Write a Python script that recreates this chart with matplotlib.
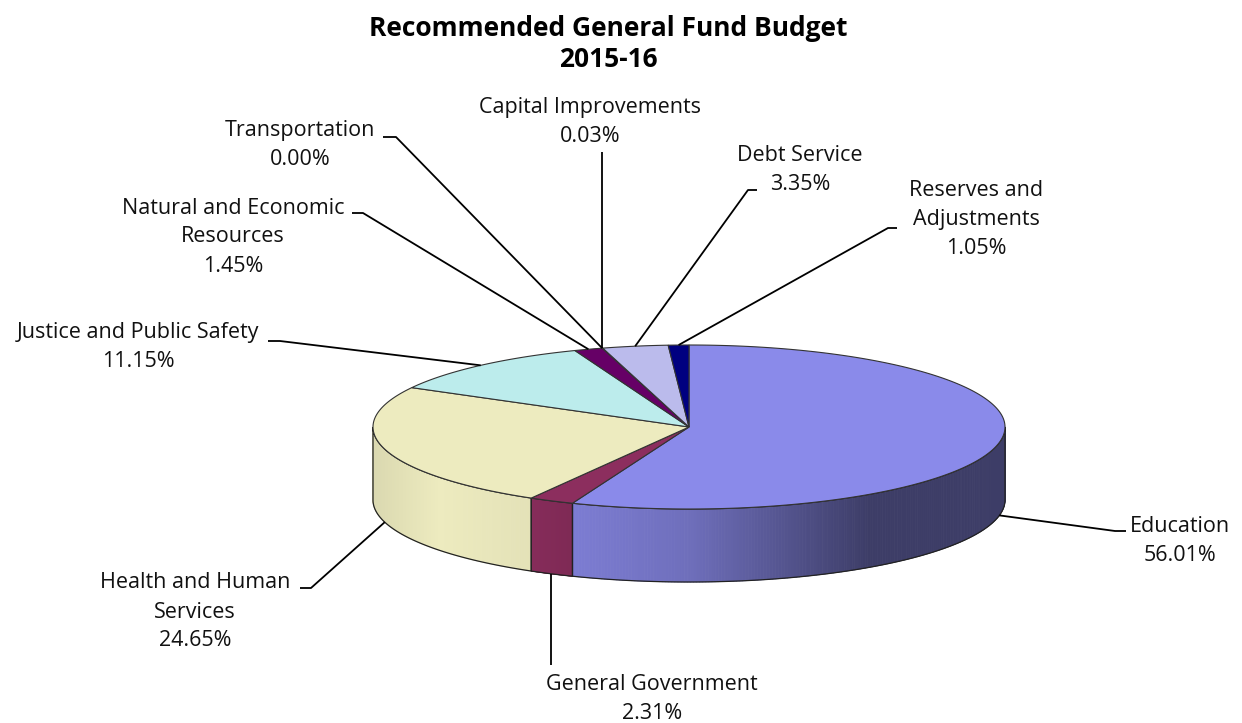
import matplotlib.pyplot as plt
import numpy as np
from matplotlib.patches import Polygon
from matplotlib.collections import PolyCollection

plt.rcParams['font.family'] = ['Open Sans', 'DejaVu Sans']

# Budget shares (percent), in clockwise order starting at 12 o'clock
categories = ['Education', 'General Government', 'Health and Human\nServices',
              'Justice and Public Safety', 'Natural and Economic\nResources',
              'Transportation', 'Capital Improvements', 'Debt Service',
              'Reserves and\nAdjustments']
shares = [56.01, 2.31, 24.65, 11.15, 1.45, 0.00, 0.03, 3.35, 1.05]
colors = ['#8a8aea', '#8c2e5e', '#edebbf', '#bcecec', '#660066',
          '#ccffff', '#ff8080', '#bbbbec', '#000080']

# label block centres and the leader-line bend points (pixel space)
label_pos = [(1180, 541), (652, 699), (195, 612), (138, 347), (233, 237),
             (300, 145), (590, 122), (800, 170), (976, 219)]
leader_pts = [[(1126, 531), (1115, 531)],
              [(None, 665)],
              [(300, 588), (311, 588)],
              [(268, 341), (280, 341)],
              [(352, 213), (363, 213)],
              [(383, 137), (396, 137)],
              [(None, 152)],
              [(757, 190), (748, 190)],
              [(897, 228), (888, 228)]]

# pie geometry
cx, cy, rx, ry, depth = 689, 427, 316, 82, 73


def rim(t):
    t = np.radians(t)
    return cx + rx * np.cos(t), cy - ry * np.sin(t)


def side_shade(x):
    return np.interp(x, [373, 440, 530, 575, 690, 870, 1005],
                     [0.92, 1.0, 0.96, 0.9, 0.8, 0.44, 0.44])


fig = plt.figure(figsize=(12.42, 7.23), dpi=100)
ax = fig.add_axes([0, 0, 1, 1])
ax.set_xlim(0, 1242)
ax.set_ylim(723, 0)
ax.axis('off')

cum = np.concatenate([[0], np.cumsum(shares)])
starts = 90 - cum[:-1] * 3.6
ends = 90 - cum[1:] * 3.6

# side walls of the front half
for s, e, c in zip(starts, ends, colors):
    lo, hi = max(e, -180), min(s, 0)
    if hi <= lo:
        continue
    ts = np.linspace(lo, hi, 200)
    xs, ys = rim(ts)
    quads, fcs = [], []
    base = np.array(plt.matplotlib.colors.to_rgb(c))
    for i in range(len(ts) - 1):
        quads.append([(xs[i], ys[i]), (xs[i + 1], ys[i + 1]),
                      (xs[i + 1], ys[i + 1] + depth), (xs[i], ys[i] + depth)])
        fcs.append(np.clip(base * side_shade((xs[i] + xs[i + 1]) / 2), 0, 1))
    ax.add_collection(PolyCollection(quads, facecolors=fcs, edgecolors=fcs,
                                     linewidths=0.6, zorder=1))
    outline = list(zip(xs, ys)) + list(zip(xs[::-1], ys[::-1] + depth))
    ax.add_patch(Polygon(outline, closed=True, fill=False, edgecolor='#222222',
                         lw=0.9, zorder=2))

# top faces
for s, e, c in zip(starts, ends, colors):
    if s == e:
        continue
    n = max(2, int(abs(s - e) * 2))
    ts = np.linspace(s, e, n)
    xs, ys = rim(ts)
    pts = [(cx, cy)] + list(zip(xs, ys))
    ax.add_patch(Polygon(pts, closed=True, facecolor=c, edgecolor='#333333',
                         lw=0.8, zorder=3))

# labels and leader lines
for name, val, s, e, (lx, ly), bends in zip(categories, shares, starts, ends,
                                            label_pos, leader_pts):
    mid = (s + e) / 2
    ax_, ay_ = rim(mid)
    if np.sin(np.radians(mid)) < 0:
        ay_ += depth
    path = [(ax_ if bx is None else bx, by) for bx, by in bends] + [(ax_, ay_)]
    px, py = zip(*path)
    ax.plot(px, py, color='black', lw=1.3, zorder=4, solid_capstyle='butt')
    ax.text(lx, ly, f'{name}\n{val:.2f}%', ha='center', va='center',
            fontsize=15.5, linespacing=1.5, color='#111111')

ax.text(608, 44, 'Recommended General Fund Budget\n2015-16', ha='center',
        va='center', fontsize=19, fontweight='bold', linespacing=1.15)

fig.savefig('out.png', dpi=100)
